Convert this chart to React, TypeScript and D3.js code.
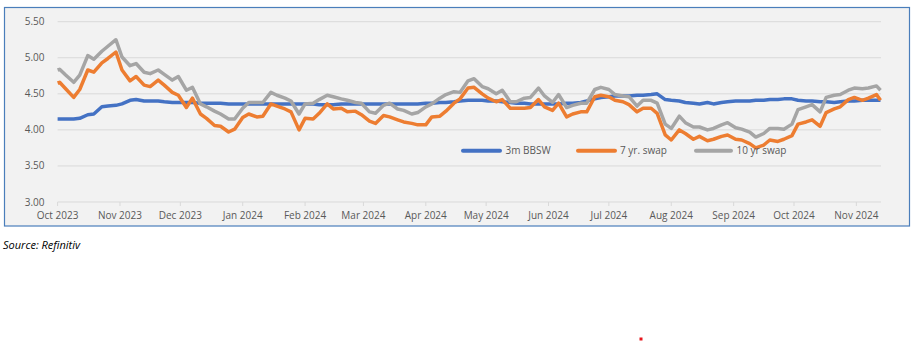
import React from "react";
import * as d3 from "d3";

const dates: string[] = [
  "2023-10-01","2023-10-02","2023-10-05","2023-10-09","2023-10-12","2023-10-16","2023-10-19","2023-10-23","2023-10-26","2023-10-30",
  "2023-11-02","2023-11-06","2023-11-09","2023-11-13","2023-11-16","2023-11-20","2023-11-23","2023-11-27","2023-11-30",
  "2023-12-04","2023-12-07","2023-12-11","2023-12-14","2023-12-18","2023-12-21","2023-12-25","2023-12-28",
  "2024-01-01","2024-01-04","2024-01-08","2024-01-11","2024-01-15","2024-01-18","2024-01-22","2024-01-25","2024-01-29",
  "2024-02-01","2024-02-05","2024-02-08","2024-02-12","2024-02-15","2024-02-19","2024-02-22","2024-02-26","2024-02-29",
  "2024-03-04","2024-03-07","2024-03-11","2024-03-14","2024-03-18","2024-03-21","2024-03-25","2024-03-28",
  "2024-04-01","2024-04-04","2024-04-08","2024-04-11","2024-04-15","2024-04-18","2024-04-22","2024-04-25","2024-04-29",
  "2024-05-02","2024-05-06","2024-05-09","2024-05-13","2024-05-16","2024-05-20","2024-05-23","2024-05-27","2024-05-30",
  "2024-06-03","2024-06-06","2024-06-10","2024-06-13","2024-06-17","2024-06-20","2024-06-24","2024-06-27",
  "2024-07-01","2024-07-04","2024-07-08","2024-07-11","2024-07-15","2024-07-18","2024-07-22","2024-07-25","2024-07-29",
  "2024-08-01","2024-08-05","2024-08-08","2024-08-12","2024-08-15","2024-08-19","2024-08-22","2024-08-26","2024-08-29",
  "2024-09-02","2024-09-05","2024-09-09","2024-09-12","2024-09-16","2024-09-19","2024-09-23","2024-09-26","2024-09-30",
  "2024-10-03","2024-10-07","2024-10-10","2024-10-14","2024-10-17","2024-10-21","2024-10-24","2024-10-28","2024-10-31",
  "2024-11-04","2024-11-07","2024-11-11","2024-11-13",
];

const bbsw3m: number[] = [
  4.15,4.15,4.15,4.15,4.16,4.21,4.22,4.32,4.33,4.34,
  4.36,4.41,4.42,4.40,4.40,4.40,4.39,4.38,4.38,
  4.38,4.38,4.37,4.37,4.37,4.37,4.36,4.36,
  4.36,4.36,4.36,4.36,4.36,4.36,4.36,4.36,4.36,
  4.36,4.36,4.35,4.35,4.35,4.36,4.36,4.36,4.36,
  4.36,4.36,4.36,4.36,4.36,4.36,4.36,4.36,
  4.37,4.37,4.38,4.38,4.39,4.40,4.41,4.41,4.41,
  4.40,4.40,4.39,4.38,4.37,4.37,4.36,4.36,4.36,
  4.36,4.36,4.37,4.37,4.38,4.40,4.43,4.45,
  4.46,4.47,4.47,4.47,4.48,4.48,4.49,4.50,4.42,
  4.41,4.40,4.38,4.37,4.36,4.38,4.36,4.38,4.39,
  4.40,4.40,4.40,4.41,4.41,4.42,4.42,4.43,4.43,
  4.41,4.40,4.40,4.39,4.39,4.38,4.39,4.40,4.40,
  4.41,4.41,4.41,4.41,
];

const swap7yr: number[] = [
  4.65,4.66,4.57,4.45,4.56,4.83,4.80,4.93,4.99,5.08,
  4.83,4.68,4.74,4.62,4.60,4.69,4.62,4.52,4.48,
  4.31,4.44,4.22,4.16,4.06,4.05,3.97,4.01,
  4.17,4.22,4.18,4.19,4.36,4.33,4.29,4.25,4.00,
  4.16,4.15,4.23,4.36,4.29,4.30,4.25,4.26,4.21,
  4.12,4.09,4.20,4.18,4.14,4.11,4.09,4.07,
  4.07,4.18,4.19,4.26,4.37,4.43,4.58,4.59,4.50,
  4.44,4.39,4.42,4.30,4.30,4.30,4.31,4.42,4.32,
  4.27,4.37,4.18,4.22,4.25,4.25,4.46,4.48,
  4.46,4.41,4.39,4.35,4.25,4.30,4.30,4.23,3.93,
  3.86,4.00,3.95,3.87,3.91,3.85,3.87,3.91,3.93,
  3.87,3.86,3.81,3.75,3.79,3.86,3.84,3.87,3.92,
  4.08,4.11,4.14,4.05,4.24,4.29,4.32,4.42,4.45,
  4.41,4.44,4.49,4.41,
];

const swap10yr: number[] = [
  4.83,4.84,4.76,4.66,4.76,5.03,4.98,5.09,5.16,5.25,
  5.01,4.89,4.92,4.80,4.78,4.83,4.77,4.69,4.74,
  4.55,4.59,4.36,4.32,4.26,4.22,4.15,4.15,
  4.30,4.38,4.38,4.38,4.52,4.48,4.44,4.40,4.22,
  4.36,4.37,4.42,4.48,4.46,4.43,4.41,4.38,4.37,
  4.25,4.23,4.34,4.37,4.29,4.27,4.22,4.24,
  4.32,4.36,4.44,4.49,4.53,4.52,4.68,4.71,4.60,
  4.57,4.50,4.55,4.39,4.39,4.44,4.45,4.58,4.47,
  4.38,4.49,4.31,4.34,4.37,4.37,4.56,4.59,
  4.56,4.49,4.47,4.46,4.33,4.41,4.41,4.37,4.08,
  4.02,4.19,4.10,4.04,4.04,4.00,4.02,4.07,4.10,
  4.03,4.01,3.97,3.90,3.95,4.02,4.02,4.01,4.08,
  4.28,4.32,4.35,4.25,4.45,4.48,4.49,4.55,4.58,
  4.57,4.58,4.61,4.55,
];

const yTicks: number[] = [3.0, 3.5, 4.0, 4.5, 5.0, 5.5];
const seriesNames: string[] = ["3m BBSW", "7 yr. swap", "10 yr swap"];
const seriesColors: string[] = ["#4472c4", "#ed7d31", "#a5a5a5"];
const sourceText = "Source:  Refinitiv";

const FONT = "'Open Sans', 'Liberation Sans', sans-serif";

export default function App() {
  const parse = d3.timeParse("%Y-%m-%d");
  const dts = dates.map((d) => parse(d) as Date);
  const x = d3
    .scaleTime()
    .domain([new Date(2023, 9, 1), new Date(2024, 10, 13)])
    .range([57.6, 880.5]);
  const y = d3.scaleLinear().domain([3, 5.5]).range([202, 21.7]);
  const plotLeft = 57.6;
  const plotRight = 881;

  const monthTicks = d3.timeMonth.range(new Date(2023, 9, 1), new Date(2024, 10, 2));
  const fmtMonth = d3.timeFormat("%b %Y");
  const fmtY = d3.format(".2f");

  const allSeries = [bbsw3m, swap7yr, swap10yr];
  const line = d3
    .line<[Date, number]>()
    .x((d) => x(d[0]))
    .y((d) => y(d[1]))
    .curve(d3.curveLinear);

  const legendItems = [
    { x0: 463, x1: 500, tx: 505.5 },
    { x0: 578, x1: 615, tx: 620 },
    { x0: 696, x1: 731, tx: 736.5 },
  ];
  const legendY = 150.7;

  return (
    <svg
      width={915}
      height={342}
      style={{ position: "absolute", left: 0, top: 0, background: "#ffffff" }}
      fontFamily={FONT}
    >
      <rect x={4.5} y={7.5} width={905} height={218.5} fill="#f2f2f2" stroke="#4a7ebb" strokeWidth={1.2} />
      {yTicks.map((t) => (
        <g key={t}>
          <line x1={plotLeft} x2={plotRight} y1={y(t)} y2={y(t)} stroke="#d9d9d9" strokeWidth={1} />
          <text x={44.5} y={y(t)} dy="0.35em" textAnchor="end" fontSize={10} fill="#595959">
            {fmtY(t)}
          </text>
        </g>
      ))}
      {monthTicks.map((m) => (
        <g key={m.getTime()}>
          <line x1={x(m)} x2={x(m)} y1={202} y2={206} stroke="#d9d9d9" strokeWidth={1} />
          <text x={x(m)} y={215} dy="0.35em" textAnchor="middle" fontSize={10} fill="#595959">
            {fmtMonth(m)}
          </text>
        </g>
      ))}
      {allSeries.map((vals, i) => {
        const pts: [Date, number][] = dts.map((d, j) => [d, vals[j]] as [Date, number]).filter((p) => p[1] != null);
        return (
          <path
            key={i}
            d={line(pts) || ""}
            fill="none"
            stroke={seriesColors[i]}
            strokeWidth={3.5}
            strokeLinejoin="round"
            strokeLinecap="butt"
          />
        );
      })}
      {legendItems.map((it, i) => (
        <g key={i}>
          <line x1={it.x0} x2={it.x1} y1={legendY} y2={legendY} stroke={seriesColors[i]} strokeWidth={4} strokeLinecap="round" />
          <text x={it.tx} y={legendY} dy="0.35em" fontSize={10} fill="#595959">
            {seriesNames[i]}
          </text>
        </g>
      ))}
      <text x={3} y={245.5} dy="0.35em" fontSize={11} fontStyle="italic" fill="#000000">
        {sourceText}
      </text>
      <rect x={639.5} y={337.5} width={3} height={3} fill="#e8141b" />
    </svg>
  );
}
